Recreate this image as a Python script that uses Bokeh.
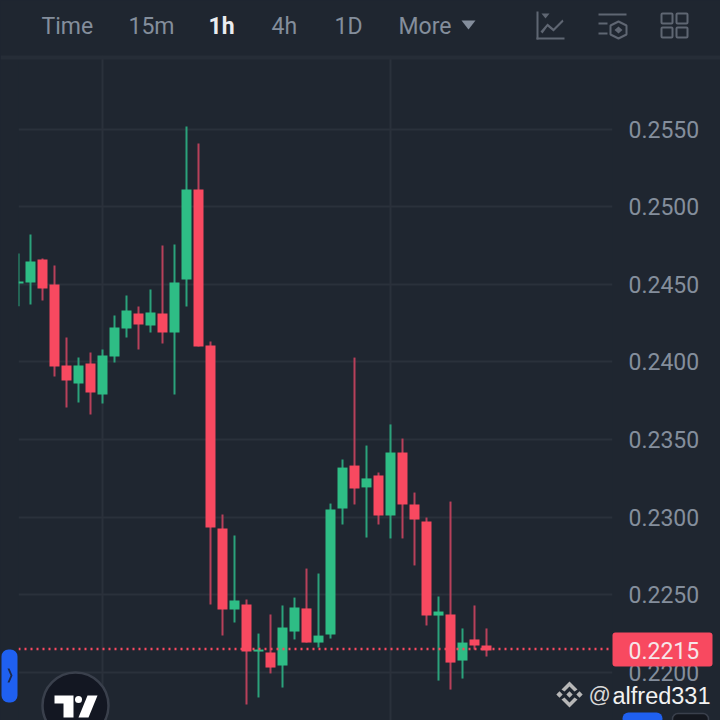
from bokeh.core.properties import value
from bokeh.embed import file_html
from bokeh.layouts import column
from bokeh.models import (Column, ColumnDataSource, FixedTicker, GlobalInlineStyleSheet,
                          NumeralTickFormatter, Span)
from bokeh.plotting import figure
from bokeh.resources import INLINE

# candle data (one entry per hourly candle)
index = list(range(40))
open_ = [.24505, .24512, .24660, .24499, .23977, .23861, .23990, .23790, .24035, .24215,
         .24312, .24235, .24312, .24190, .24531, .25111, .24106, .22926, .22404, .22436,
         .22133, .22127, .22043, .22262, .22411, .22191, .22243, .23055, .23332, .23191,
         .23268, .23010, .23416, .23081, .22971, .22365, .22372, .22075, .22211, .22172]
close = [.24518, .24647, .24473, .23970, .23880, .23977, .23803, .24041, .24222, .24331,
         .24241, .24319, .24190, .24512, .25111, .24099, .22933, .22404, .22462, .22133,
         .22146, .22030, .22288, .22417, .22191, .22236, .23049, .23319, .23184, .23249,
         .23010, .23416, .23081, .22984, .22365, .22391, .22062, .22191, .22172, .22140]
high = [.24699, .24821, .24667, .24622, .24157, .24028, .24061, .24080, .24299, .24428,
        .24357, .24467, .24750, .24757, .25517, .25408, .24132, .23016, .22881, .22469,
        .22249, .22372, .22430, .22481, .22668, .22636, .23087, .23371, .24028, .23461,
        .23287, .23597, .23506, .23158, .22997, .22488, .23100, .22282, .22430, .22282]
low = [.24359, .24370, .24396, .23906, .23706, .23738, .23661, .23732, .23996, .24157,
       .24080, .24190, .24119, .23790, .24357, .24099, .22436, .22236, .22320, .21792,
       .21837, .21992, .21901, .22211, .22191, .22159, .22217, .22952, .23081, .22868,
       .22952, .22862, .22862, .22688, .22301, .21946, .21888, .21959, .22146, .22101]
price_ticks = [.2200, .2250, .2300, .2350, .2400, .2450, .2500, .2550]
crosshair_candles = [7, 31]
last_price = 0.2215
last_price_label = "0.2215"
intervals = [("Time", 41, "#848e9c", "normal"), ("15m", 128, "#848e9c", "normal"),
             ("1h", 208, "#eaecef", "bold"), ("4h", 271, "#848e9c", "normal"),
             ("1D", 334, "#848e9c", "normal"), ("More", 398, "#848e9c", "normal")]

BG = "#1f2630"
GRID = "#2a313b"
UP = "#2ebd85"
DOWN = "#f84960"
UP_WICK = "#2ba27b"
DOWN_WICK = "#b8405a"
ICON = "#5f6672"
FONT = "Roboto"

p = figure(width=720, height=720, output_backend="svg", toolbar_location=None,
           x_range=(0, 49.5), y_range=(0.216886, 0.259751), y_axis_location="right",
           background_fill_color=BG, border_fill_color=BG,
           min_border_left=18, min_border_right=108, min_border_top=55, min_border_bottom=0)
p.outline_line_color = None
p.xaxis.visible = False
p.xgrid.ticker = FixedTicker(ticks=crosshair_candles)
p.ygrid.ticker = FixedTicker(ticks=price_ticks)
p.xgrid.grid_line_color = GRID
p.ygrid.grid_line_color = GRID
p.xgrid.grid_line_width = 2
p.ygrid.grid_line_width = 2
yax = p.yaxis[0]
yax.ticker = FixedTicker(ticks=price_ticks)
yax.formatter = NumeralTickFormatter(format="0.0000")
yax.axis_line_color = None
yax.major_tick_line_color = None
yax.minor_tick_line_color = None
yax.major_tick_out = 0
yax.major_label_standoff = 16
yax.major_label_text_color = "#848e9c"
yax.major_label_text_font = FONT
yax.major_label_text_font_size = "23px"

rising = [c >= o for o, c in zip(open_, close)]
def subset(flag):
    ids = [i for i, r in enumerate(rising) if r == flag]
    return ColumnDataSource(dict(
        x=[index[i] for i in ids], top=[max(open_[i], close[i]) for i in ids],
        bottom=[min(open_[i], close[i]) for i in ids],
        high=[high[i] for i in ids], low=[low[i] for i in ids]))
up, down = subset(True), subset(False)
for src, body, wick in ((up, UP, UP_WICK), (down, DOWN, DOWN_WICK)):
    p.segment("x", "high", "x", "low", source=src, line_color=wick, line_width=2)
    p.vbar("x", 0.8333, "top", "bottom", source=src, fill_color=body, line_color=None)
p.add_layout(Span(location=last_price, dimension="width", line_color=DOWN, line_width=2.5, line_dash="2 4"))

# ---- interface decoration: a transparent sheet laid exactly over the chart, in pixel coordinates
q = figure(width=720, height=720, output_backend="svg", toolbar_location=None,
           x_range=(0, 720), y_range=(720, 0), x_axis_location=None, y_axis_location=None,
           background_fill_alpha=0, border_fill_alpha=0,
           min_border_left=0, min_border_right=0, min_border_top=0, min_border_bottom=0)
q.outline_line_color = None
q.grid.visible = False

def box(x0, y0, x1, y1, fill=None, line=None, lw=0, radius=0):
    q.quad(left=[x0], right=[x1], top=[y0], bottom=[y1], fill_color=fill, fill_alpha=1 if fill else 0,
           line_color=line, line_width=lw, line_alpha=1 if line else 0, border_radius=radius)

def poly(pts, fill=None, line=None, lw=0):
    q.patch([a for a, _ in pts], [b for _, b in pts], fill_color=fill, fill_alpha=1 if fill else 0,
            line_color=line, line_width=lw, line_alpha=1 if line else 0)

def text(s, x, y, size, color, style="normal", font=FONT):
    q.text([x], [y], text=[s], text_color=color, text_font=value(font), text_font_size=size,
           text_font_style=style, text_baseline="middle", text_align="left")

box(0, 55, 720, 59, fill="#262d37")
for name, x, color, style in intervals:
    text(name, x, 26, "23px", color, style)
poly([(461, 20), (475, 20), (468, 29)], fill="#848e9c")

# chart-type icon
box(536, 11, 538, 39, fill=ICON)
box(536, 37, 564, 39, fill=ICON)
poly([(541, 13), (549, 13), (545, 18)], fill=ICON)
poly([(540, 31), (547, 23), (553, 28), (562, 19), (563, 21), (553, 31), (547, 26), (542, 33)], fill=ICON)
# indicator icon
box(598, 13, 626, 15, fill=ICON)
box(598, 22, 607, 24, fill=ICON)
box(598, 32, 607, 34, fill=ICON)
poly([(618, 21), (626, 25), (626, 34), (618, 38), (610, 34), (610, 25)], line=ICON, lw=2)
poly([(618, 26), (622, 29.5), (618, 33), (614, 29.5)], fill=ICON)
# layout icon
for xa, xb in ((661, 672), (676, 687)):
    for ya, yb in ((13, 23), (27, 37)):
        box(xa, ya, xb, yb, line=ICON, lw=2, radius=1)

# left tab
box(1, 649, 17, 702, fill="#1f60f0", radius=7)
poly([(7, 668), (9, 668), (12, 675), (9, 682), (7, 682), (10, 675)], fill="#1c2a4d")

# badge
q.scatter([75], [705], size=66, marker="circle", fill_color="#131722", line_color="#3a404c", line_width=2.5)
poly([(54, 695), (73, 695), (73, 717), (63, 717), (63, 703), (54, 703)], fill="#ffffff")
poly([(87, 695), (97, 695), (88, 717), (78, 717)], fill="#ffffff")
q.scatter([78], [699], size=7, marker="circle", fill_color="#ffffff", line_color=None)

# last price tag
box(612, 632, 712, 666, fill=DOWN, radius=3)
text(last_price_label, 628, 650, "23px", "#f6e6e9")

# watermark
LOGO = "#b7b7b7"
for cx, cy, r in ((559, 694, 3.2), (579, 694, 3.2), (569, 694, 3.2)):
    poly([(cx, cy - r), (cx + r, cy), (cx, cy + r), (cx - r, cy)], fill=LOGO)
poly([(569, 681), (577, 689), (574, 691), (569, 686), (564, 691), (561, 689)], fill=LOGO)
poly([(569, 707), (577, 699), (574, 697), (569, 702), (564, 697), (561, 699)], fill=LOGO)
text("@", 588, 694, "22px", "#d8d8d8", font="Liberation Sans")
text("alfred331", 612, 695, "23.5px", "#f2f2f2", font="Liberation Sans")

# bottom buttons
box(622, 712, 662, 724, fill="#1f60f0", radius=7)
box(672, 713, 708, 724, fill="#14171e", line="#3a404c", lw=1.5, radius=6)

sheet = Column(children=[q], width=720, height=720, margin=(-720, 0, 0, 0))
page = column(p, sheet, spacing=0, width=720, height=720)
page.stylesheets = [GlobalInlineStyleSheet(css="html,body{margin:0;padding:0;background:#1f2630;overflow:hidden}")]

open("out.html", "w").write(file_html(page, INLINE))
